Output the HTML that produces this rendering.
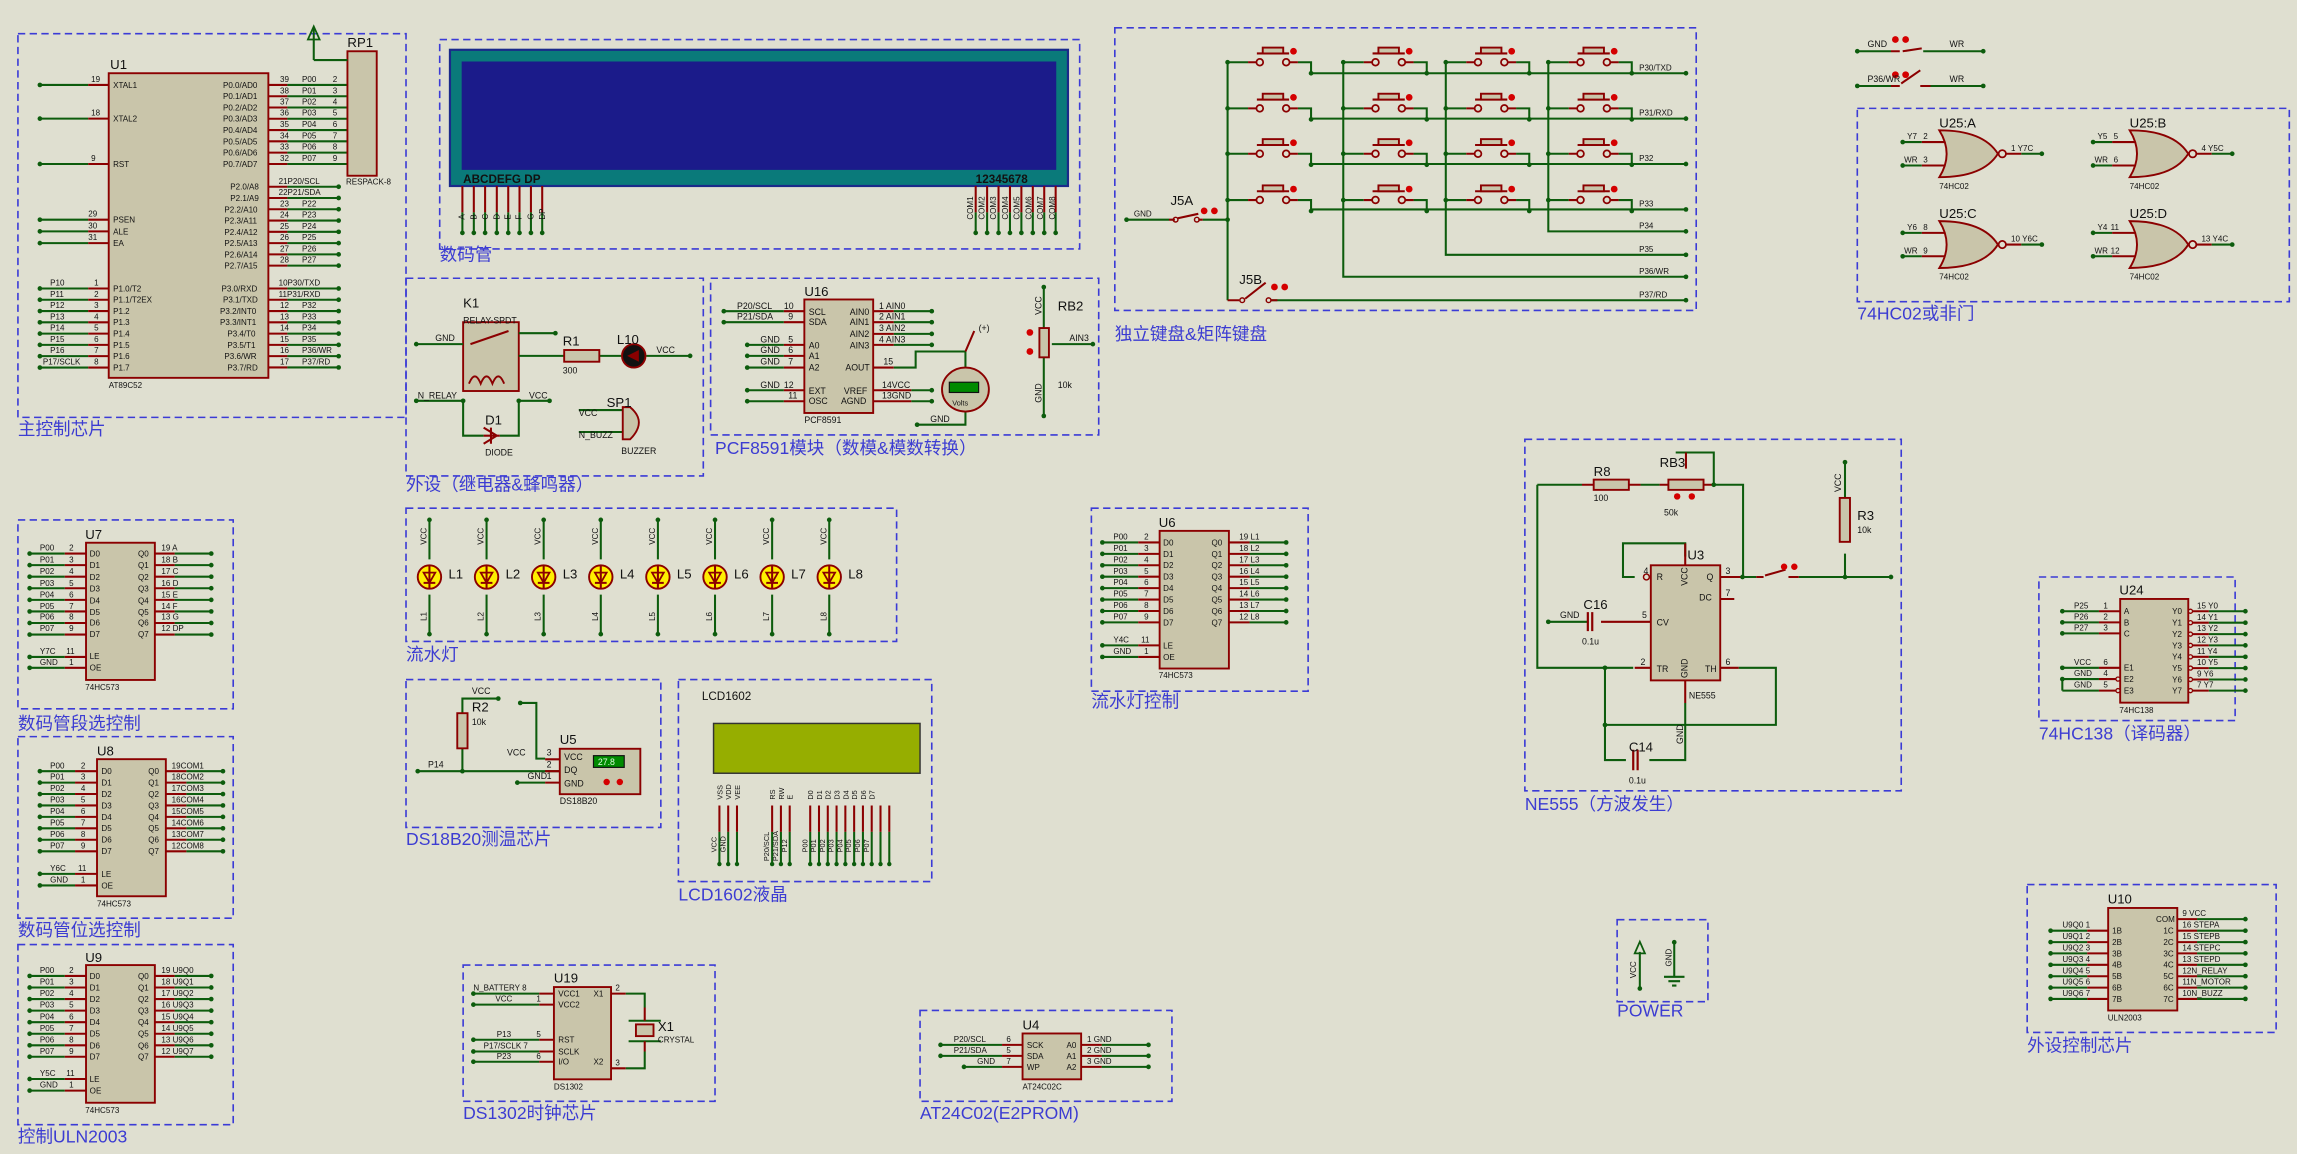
<!DOCTYPE html>
<html><head><meta charset="utf-8"><style>
html,body{margin:0;padding:0;background:#dfdfd0;}
svg{display:block}
.w{stroke:#0d5c0d;stroke-width:1.4;fill:none}
.r{stroke:#8b0000;stroke-width:1.4;fill:none}
.c{fill:#c9c5aa;stroke:#8b0000;stroke-width:1.3}
.b{fill:none;stroke:#3b3bd6;stroke-width:1.1;stroke-dasharray:5 3}
.d{fill:#0d5c0d}
.t{font-family:"Liberation Sans Narrow","Liberation Sans",sans-serif;font-size:5.5px;fill:#111}
.s{font-family:"Liberation Sans",sans-serif;font-size:6px;fill:#111}
.n{font-family:"Liberation Sans Narrow","Liberation Sans",sans-serif;font-size:9px;fill:#111}
.L{font-family:"Liberation Sans","Noto Sans CJK SC",sans-serif;font-size:12px;fill:#3c3cd2}
.rd{fill:#d40000}
</style></head><body>
<svg width="2297" height="1154" viewBox="0 0 1568 788" xmlns="http://www.w3.org/2000/svg">
<defs>
<g id="sw">
<path class="w" d="M0 0H14M48 0H57V7.5"/>
<path class="r" d="M14 0H20M42 0H48M20 -6H42"/>
<circle cx="22" cy="0" r="2.3" fill="none" stroke="#8b0000" stroke-width="1.2"/>
<circle cx="40" cy="0" r="2.3" fill="none" stroke="#8b0000" stroke-width="1.2"/>
<rect x="24" y="-10" width="14" height="4" class="c"/>
<circle cx="45" cy="-7.5" r="2.3" class="rd"/>
<circle cx="0" cy="0" r="1.6" class="d"/>
<circle cx="57" cy="7.5" r="1.6" class="d"/>
</g>
<g id="nor">
<path class="c" d="M0 0Q30 0 40 16Q30 32 0 32Q10 16 0 0Z"/>
<circle cx="43" cy="16" r="2.5" fill="#dfdfd0" stroke="#8b0000" stroke-width="1.2"/>
<path class="r" d="M-12 8H4M-12 24H4M45.5 16H56"/>
<path class="w" d="M-25 8H-12M-25 24H-12M56 16H70"/>
<circle cx="-25" cy="8" r="1.6" class="d"/><circle cx="-25" cy="24" r="1.6" class="d"/><circle cx="70" cy="16" r="1.6" class="d"/>
</g>
<g id="led">
<path class="w" d="M0 -39V-12M0 12V39"/>
<circle cx="0" cy="0" r="8" fill="#ffee00" stroke="#8b0000" stroke-width="1.3"/>
<path d="M-4 -3H4L0 4Z" fill="none" stroke="#8b0000" stroke-width="1.2"/><path class="r" d="M-4 4H4M0 -8V8"/>
<circle cx="0" cy="-39" r="1.6" class="d"/><circle cx="0" cy="39" r="1.6" class="d"/>
</g>
</defs>

<!-- ===== dashed boxes and labels ===== -->
<rect class="b" x="12" y="23" width="265" height="262"/><text class="L" x="12" y="297">主控制芯片</text>
<rect class="b" x="300" y="27" width="437" height="143"/><text class="L" x="300" y="178">数码管</text>
<rect class="b" x="761" y="19" width="397" height="193"/><text class="L" x="761" y="232">独立键盘&amp;矩阵键盘</text>
<rect class="b" x="1268" y="74" width="295" height="132"/><text class="L" x="1268" y="218">74HC02或非门</text>
<rect class="b" x="277" y="190" width="203" height="135"/><text class="L" x="277" y="335">外设（继电器&amp;蜂鸣器）</text>
<rect class="b" x="485" y="190" width="265" height="107"/><text class="L" x="488" y="310">PCF8591模块（数模&amp;模数转换）</text>
<rect class="b" x="277" y="347" width="335" height="91"/><text class="L" x="277" y="451">流水灯</text>
<rect class="b" x="12" y="355" width="147" height="129"/><text class="L" x="12" y="498">数码管段选控制</text>
<rect class="b" x="12" y="503" width="147" height="124"/><text class="L" x="12" y="639">数码管位选控制</text>
<rect class="b" x="12" y="645" width="147" height="123"/><text class="L" x="12" y="780">控制ULN2003</text>
<rect class="b" x="745" y="347" width="148" height="125"/><text class="L" x="745" y="483">流水灯控制</text>
<rect class="b" x="1041" y="300" width="257" height="240"/><text class="L" x="1041" y="553">NE555（方波发生）</text>
<rect class="b" x="1392" y="394" width="134" height="98"/><text class="L" x="1392" y="505">74HC138（译码器）</text>
<rect class="b" x="277" y="464" width="174" height="101"/><text class="L" x="277" y="577">DS18B20测温芯片</text>
<rect class="b" x="463" y="464" width="173" height="138"/><text class="L" x="463" y="615">LCD1602液晶</text>
<rect class="b" x="1104" y="628" width="62" height="56"/><text class="L" x="1104" y="694">POWER</text>
<rect class="b" x="1384" y="604" width="170" height="101"/><text class="L" x="1384" y="718">外设控制芯片</text>
<rect class="b" x="316" y="659" width="172" height="93"/><text class="L" x="316" y="764">DS1302时钟芯片</text>
<rect class="b" x="628" y="690" width="172" height="62"/><text class="L" x="628" y="764">AT24C02(E2PROM)</text>

<!-- ===== U1 main chip ===== -->
<rect class="c" x="74" y="50" width="109" height="208"/>
<text class="n" x="75" y="47">U1</text><text class="t" x="74" y="265">AT89C52</text>
<path class="w" d="M27 58H60M27 81H60M27 112H60M27 150H60M27 158H60M27 166H60M27 197H60M27 204.7H60M27 212.4H60M27 220.1H60M27 227.8H60M27 235.5H60M27 243.2H60M27 251H60"/>
<path class="r" d="M60 58H74M60 81H74M60 112H74M60 150H74M60 158H74M60 166H74M60 197H74M60 204.7H74M60 212.4H74M60 220.1H74M60 227.8H74M60 235.5H74M60 243.2H74M60 251H74"/>
<path class="r" d="M183 58H196M183 65.7H196M183 73.4H196M183 81.1H196M183 88.8H196M183 96.5H196M183 104.2H196M183 112H196M183 127.5H196M183 135.2H196M183 142.9H196M183 150.6H196M183 158.3H196M183 166H196M183 173.7H196M183 181.4H196M183 197H196M183 204.7H196M183 212.4H196M183 220.1H196M183 227.8H196M183 235.5H196M183 243.2H196M183 250.9H196"/>
<path class="w" d="M196 58H237M196 65.7H237M196 73.4H237M196 81.1H237M196 88.8H237M196 96.5H237M196 104.2H237M196 112H237M196 127.5H231M196 135.2H231M196 142.9H231M196 150.6H231M196 158.3H231M196 166H231M196 173.7H231M196 181.4H231M196 197H231M196 204.7H231M196 212.4H231M196 220.1H231M196 227.8H231M196 235.5H231M196 243.2H231M196 250.9H231"/>
<g class="d"><circle cx="27" cy="58" r="1.6"/><circle cx="27" cy="81" r="1.6"/><circle cx="27" cy="112" r="1.6"/><circle cx="27" cy="150" r="1.6"/><circle cx="27" cy="158" r="1.6"/><circle cx="27" cy="166" r="1.6"/><circle cx="27" cy="197" r="1.6"/><circle cx="27" cy="204.7" r="1.6"/><circle cx="27" cy="212.4" r="1.6"/><circle cx="27" cy="220.1" r="1.6"/><circle cx="27" cy="227.8" r="1.6"/><circle cx="27" cy="235.5" r="1.6"/><circle cx="27" cy="243.2" r="1.6"/><circle cx="27" cy="251" r="1.6"/>
<circle cx="231" cy="127.5" r="1.6"/><circle cx="231" cy="135.2" r="1.6"/><circle cx="231" cy="142.9" r="1.6"/><circle cx="231" cy="150.6" r="1.6"/><circle cx="231" cy="158.3" r="1.6"/><circle cx="231" cy="166" r="1.6"/><circle cx="231" cy="173.7" r="1.6"/><circle cx="231" cy="181.4" r="1.6"/><circle cx="231" cy="197" r="1.6"/><circle cx="231" cy="204.7" r="1.6"/><circle cx="231" cy="212.4" r="1.6"/><circle cx="231" cy="220.1" r="1.6"/><circle cx="231" cy="227.8" r="1.6"/><circle cx="231" cy="235.5" r="1.6"/><circle cx="231" cy="243.2" r="1.6"/><circle cx="231" cy="250.9" r="1.6"/></g>
<g class="t">
<text x="77" y="60">XTAL1</text><text x="77" y="83">XTAL2</text><text x="77" y="114">RST</text><text x="77" y="152">PSEN</text><text x="77" y="160">ALE</text><text x="77" y="168">EA</text>
<text x="77" y="199">P1.0/T2</text><text x="77" y="206.7">P1.1/T2EX</text><text x="77" y="214.4">P1.2</text><text x="77" y="222">P1.3</text><text x="77" y="229.8">P1.4</text><text x="77" y="237.5">P1.5</text><text x="77" y="245.2">P1.6</text><text x="77" y="253">P1.7</text>
<text x="62" y="56">19</text><text x="62" y="79">18</text><text x="62" y="110">9</text><text x="60" y="148">29</text><text x="60" y="156">30</text><text x="60" y="164">31</text>
<text x="34" y="195">P10</text><text x="34" y="202.7">P11</text><text x="34" y="210.4">P12</text><text x="34" y="218">P13</text><text x="34" y="225.8">P14</text><text x="34" y="233.5">P15</text><text x="34" y="241.2">P16</text><text x="29" y="249">P17/SCLK</text>
<text x="64" y="195">1</text><text x="64" y="202.7">2</text><text x="64" y="210.4">3</text><text x="64" y="218">4</text><text x="64" y="225.8">5</text><text x="64" y="233.5">6</text><text x="64" y="241.2">7</text><text x="64" y="249">8</text>
<text x="152" y="60">P0.0/AD0</text><text x="152" y="67.7">P0.1/AD1</text><text x="152" y="75.4">P0.2/AD2</text><text x="152" y="83">P0.3/AD3</text><text x="152" y="90.8">P0.4/AD4</text><text x="152" y="98.5">P0.5/AD5</text><text x="152" y="106.2">P0.6/AD6</text><text x="152" y="114">P0.7/AD7</text>
<text x="157" y="129.5">P2.0/A8</text><text x="157" y="137.2">P2.1/A9</text><text x="153" y="145">P2.2/A10</text><text x="153" y="152.6">P2.3/A11</text><text x="153" y="160.3">P2.4/A12</text><text x="153" y="168">P2.5/A13</text><text x="153" y="175.7">P2.6/A14</text><text x="153" y="183.4">P2.7/A15</text>
<text x="151" y="199">P3.0/RXD</text><text x="152" y="206.7">P3.1/TXD</text><text x="150" y="214.4">P3.2/INT0</text><text x="150" y="222">P3.3/INT1</text><text x="155" y="229.8">P3.4/T0</text><text x="155" y="237.5">P3.5/T1</text><text x="153" y="245.2">P3.6/WR</text><text x="155" y="253">P3.7/RD</text>
<text x="191" y="56">39</text><text x="191" y="63.7">38</text><text x="191" y="71.4">37</text><text x="191" y="79">36</text><text x="191" y="86.8">35</text><text x="191" y="94.5">34</text><text x="191" y="102.2">33</text><text x="191" y="110">32</text>
<text x="206" y="56">P00</text><text x="206" y="63.7">P01</text><text x="206" y="71.4">P02</text><text x="206" y="79">P03</text><text x="206" y="86.8">P04</text><text x="206" y="94.5">P05</text><text x="206" y="102.2">P06</text><text x="206" y="110">P07</text>
<text x="227" y="56">2</text><text x="227" y="63.7">3</text><text x="227" y="71.4">4</text><text x="227" y="79">5</text><text x="227" y="86.8">6</text><text x="227" y="94.5">7</text><text x="227" y="102.2">8</text><text x="227" y="110">9</text>
<text x="190" y="125.5">21P20/SCL</text><text x="190" y="133.2">22P21/SDA</text><text x="191" y="141">23</text><text x="206" y="141">P22</text><text x="191" y="148.6">24</text><text x="206" y="148.6">P23</text><text x="191" y="156.3">25</text><text x="206" y="156.3">P24</text><text x="191" y="164">26</text><text x="206" y="164">P25</text><text x="191" y="171.7">27</text><text x="206" y="171.7">P26</text><text x="191" y="179.4">28</text><text x="206" y="179.4">P27</text>
<text x="190" y="195">10P30/TXD</text><text x="190" y="202.7">11P31/RXD</text><text x="191" y="210.4">12</text><text x="206" y="210.4">P32</text><text x="191" y="218">13</text><text x="206" y="218">P33</text><text x="191" y="225.8">14</text><text x="206" y="225.8">P34</text><text x="191" y="233.5">15</text><text x="206" y="233.5">P35</text><text x="191" y="241.2">16</text><text x="206" y="241.2">P36/WR</text><text x="191" y="249">17</text><text x="206" y="249">P37/RD</text>
<text x="236" y="126">RESPACK-8</text>
</g>
<rect class="c" x="237" y="35" width="20" height="85"/><text class="n" x="237" y="32">RP1</text>
<path class="w" d="M214 41V19M214 41H237"/><path d="M210 27L214 18L218 27Z" fill="none" stroke="#0d5c0d" stroke-width="1.2"/>

<!-- ===== 7-seg display ===== -->
<rect x="307" y="34" width="422" height="93" fill="#0a7a7a" stroke="#1a2a8a" stroke-width="1.5"/>
<rect x="315" y="42" width="406" height="74" fill="#1b1b8a"/>
<text x="316" y="125" style="font:bold 8px 'Liberation Sans Narrow','Liberation Sans',sans-serif;fill:#111">ABCDEFG  DP</text>
<text x="666" y="125" style="font:bold 8px 'Liberation Sans Narrow','Liberation Sans',sans-serif;fill:#111">12345678</text>
<path class="r" d="M315.5 127V145M323.3 127V145M331 127V145M339 127V145M346.8 127V145M354.5 127V145M362.3 127V145M370 127V145M666 127V145M673.8 127V145M681.6 127V145M689.4 127V145M697.2 127V145M705 127V145M712.8 127V145M720.6 127V145"/>
<path class="w" d="M315.5 145V159M323.3 145V159M331 145V159M339 145V159M346.8 145V159M354.5 145V159M362.3 145V159M370 145V159M666 145V159M673.8 145V159M681.6 145V159M689.4 145V159M697.2 145V159M705 145V159M712.8 145V159M720.6 145V159"/>
<g class="d"><circle cx="315.5" cy="159" r="1.6"/><circle cx="323.3" cy="159" r="1.6"/><circle cx="331" cy="159" r="1.6"/><circle cx="339" cy="159" r="1.6"/><circle cx="346.8" cy="159" r="1.6"/><circle cx="354.5" cy="159" r="1.6"/><circle cx="362.3" cy="159" r="1.6"/><circle cx="370" cy="159" r="1.6"/><circle cx="666" cy="159" r="1.6"/><circle cx="673.8" cy="159" r="1.6"/><circle cx="681.6" cy="159" r="1.6"/><circle cx="689.4" cy="159" r="1.6"/><circle cx="697.2" cy="159" r="1.6"/><circle cx="705" cy="159" r="1.6"/><circle cx="712.8" cy="159" r="1.6"/><circle cx="720.6" cy="159" r="1.6"/></g>
<g class="t"><text transform="translate(317,150) rotate(-90)">A</text><text transform="translate(325,150) rotate(-90)">B</text><text transform="translate(333,150) rotate(-90)">C</text><text transform="translate(341,150) rotate(-90)">D</text><text transform="translate(348.5,150) rotate(-90)">E</text><text transform="translate(356,150) rotate(-90)">F</text><text transform="translate(364,150) rotate(-90)">G</text><text transform="translate(372,150) rotate(-90)">DP</text>
<text transform="translate(664,150) rotate(-90)">COM1</text><text transform="translate(672,150) rotate(-90)">COM2</text><text transform="translate(680,150) rotate(-90)">COM3</text><text transform="translate(688,150) rotate(-90)">COM4</text><text transform="translate(696,150) rotate(-90)">COM5</text><text transform="translate(704,150) rotate(-90)">COM6</text><text transform="translate(712,150) rotate(-90)">COM7</text><text transform="translate(720,150) rotate(-90)">COM8</text></g>

<!-- ===== Keyboard ===== -->
<path class="w" d="M838 42.5V205M917 42.5V189H1151M987 42.5V174H1151M1057 42.5V158H1151M895 50H1151M895 81H1151M895 112H1151M895 143H1151M868 205H1151M769 150H798M821 150H838"/>
<use href="#sw" x="838" y="42.5"/><use href="#sw" x="917" y="42.5"/><use href="#sw" x="987" y="42.5"/><use href="#sw" x="1057" y="42.5"/>
<use href="#sw" x="838" y="74"/><use href="#sw" x="917" y="74"/><use href="#sw" x="987" y="74"/><use href="#sw" x="1057" y="74"/>
<use href="#sw" x="838" y="105"/><use href="#sw" x="917" y="105"/><use href="#sw" x="987" y="105"/><use href="#sw" x="1057" y="105"/>
<use href="#sw" x="838" y="136.6"/><use href="#sw" x="917" y="136.6"/><use href="#sw" x="987" y="136.6"/><use href="#sw" x="1057" y="136.6"/>
<g class="d"><circle cx="769" cy="150" r="1.6"/><circle cx="838" cy="150" r="1.6"/><circle cx="1151" cy="50" r="1.6"/><circle cx="1151" cy="81" r="1.6"/><circle cx="1151" cy="112" r="1.6"/><circle cx="1151" cy="143" r="1.6"/><circle cx="1151" cy="158" r="1.6"/><circle cx="1151" cy="174" r="1.6"/><circle cx="1151" cy="189" r="1.6"/><circle cx="1151" cy="205" r="1.6"/></g>
<path class="r" d="M798 150H802M818 150H821M804 149L818 146M838 205H846M850 204L864 193M868 205H872"/>
<circle cx="802.5" cy="150" r="1.6" fill="none" stroke="#8b0000"/><circle cx="817" cy="150" r="1.6" fill="none" stroke="#8b0000"/>
<circle cx="848" cy="205" r="1.6" fill="none" stroke="#8b0000"/><circle cx="866" cy="205" r="1.6" fill="none" stroke="#8b0000"/>
<g class="rd"><circle cx="822" cy="144" r="2.3"/><circle cx="829" cy="144" r="2.3"/><circle cx="870" cy="196" r="2.3"/><circle cx="877" cy="196" r="2.3"/></g>
<g class="t"><text x="774" y="148">GND</text><text x="1119" y="48">P30/TXD</text><text x="1119" y="79">P31/RXD</text><text x="1119" y="110">P32</text><text x="1119" y="141">P33</text><text x="1119" y="156">P34</text><text x="1119" y="172">P35</text><text x="1119" y="187">P36/WR</text><text x="1119" y="203">P37/RD</text></g>
<text class="n" x="799" y="140">J5A</text><text class="n" x="846" y="194">J5B</text>

<!-- small GND/WR switches -->
<path class="w" d="M1268 35H1291M1313 35H1336M1336 35H1354M1268 58.7H1291M1313 58.7H1354"/>
<path class="r" d="M1291 35H1297M1299 35L1312 33M1291 58.7H1297M1298 57L1311 48M1311 58.7H1318"/>
<g class="rd"><circle cx="1294" cy="27" r="2.3"/><circle cx="1301" cy="27" r="2.3"/><circle cx="1294" cy="51" r="2.3"/><circle cx="1301" cy="51" r="2.3"/></g>
<g class="d"><circle cx="1268" cy="35" r="1.6"/><circle cx="1354" cy="35" r="1.6"/><circle cx="1268" cy="58.7" r="1.6"/><circle cx="1354" cy="58.7" r="1.6"/></g>
<g class="s"><text x="1275" y="32">GND</text><text x="1331" y="32">WR</text><text x="1275" y="56">P36/WR</text><text x="1331" y="56">WR</text></g>

<!-- 74HC02 -->
<use href="#nor" x="1324" y="89"/><use href="#nor" x="1454" y="89"/><use href="#nor" x="1324" y="151"/><use href="#nor" x="1454" y="151"/>
<g class="n"><text x="1324" y="87">U25:A</text><text x="1454" y="87">U25:B</text><text x="1324" y="149">U25:C</text><text x="1454" y="149">U25:D</text></g>
<g class="t"><text x="1324" y="129">74HC02</text><text x="1454" y="129">74HC02</text><text x="1324" y="191">74HC02</text><text x="1454" y="191">74HC02</text>
<text x="1302" y="95">Y7</text><text x="1313" y="95">2</text><text x="1300" y="111">WR</text><text x="1313" y="111">3</text><text x="1373" y="103">1 Y7C</text>
<text x="1432" y="95">Y5</text><text x="1443" y="95">5</text><text x="1430" y="111">WR</text><text x="1443" y="111">6</text><text x="1503" y="103">4 Y5C</text>
<text x="1302" y="157">Y6</text><text x="1313" y="157">8</text><text x="1300" y="173">WR</text><text x="1313" y="173">9</text><text x="1373" y="165">10 Y6C</text>
<text x="1432" y="157">Y4</text><text x="1441" y="157">11</text><text x="1430" y="173">WR</text><text x="1441" y="173">12</text><text x="1503" y="165">13 Y4C</text></g>

<!-- ===== Relay ===== -->
<rect class="c" x="316" y="220" width="38" height="47"/>
<text class="s" x="316" y="210" style="font-size:9px">K1</text><text class="s" x="316" y="221" style="font-size:6px">RELAY-SPDT</text>
<path class="w" d="M284 235H316M354 227.5H379M354 243H385M409 243H424M441 243H471M284 273.7H316M354 273.7H375M316 273.7V297.5H330M354 273.7V297.5H341"/>
<path class="r" d="M321 235L347 226M385 243H409"/>
<rect x="385" y="239" width="24" height="8" class="c"/>
<circle cx="432.5" cy="243" r="8" fill="#111" stroke="#8b0000" stroke-width="1.3"/><path d="M428 243L436 239V247Z" fill="#8b0000"/>
<path class="r" d="M330 297.5H341M335 292V303M330 292L339 297.5L330 303"/>
<path d="M320 262q4 -10 8 0q4 -10 8 0q4 -10 8 0" fill="none" stroke="#8b0000" stroke-width="1.3"/>
<path class="w" d="M395 280H425M395 295H425"/><path d="M425 278H430Q442 288 430 300H425Z" class="c"/>
<g class="d"><circle cx="284" cy="235" r="1.6"/><circle cx="379" cy="227.5" r="1.6"/><circle cx="471" cy="243" r="1.6"/><circle cx="284" cy="273.7" r="1.6"/><circle cx="316" cy="273.7" r="1.6"/><circle cx="354" cy="273.7" r="1.6"/><circle cx="375" cy="273.7" r="1.6"/></g>
<g class="s"><text x="297" y="233">GND</text><text x="384" y="236" style="font-size:9px">R1</text><text x="384" y="255">300</text><text x="421" y="235" style="font-size:9px">L10</text><text x="448" y="241">VCC</text>
<text x="285" y="272">N_RELAY</text><text x="361" y="272">VCC</text><text x="331" y="290" style="font-size:9px">D1</text><text x="331" y="311">DIODE</text>
<text x="395" y="284">VCC</text><text x="395" y="299">N_BUZZ</text><text x="414" y="278" style="font-size:9px">SP1</text><text x="424" y="310">BUZZER</text></g>

<!-- ===== PCF8591 ===== -->
<rect class="c" x="549" y="204.5" width="47" height="77.5"/>
<text class="s" x="549" y="202" style="font-size:9px">U16</text><text class="s" x="549" y="289">PCF8591</text>
<path class="w" d="M494 212.5H535M494 220H535M510 235.5H535M510 243H535M510 251H535M510 266.5H535M510 274H535M610 212.5H636M610 220H636M610 228H636M610 235.5H636M622 266.5H636M622 274H636M610 251H625V240H659V252M659 281V290H626M712.5 196V224M712.5 244V284M718 235H746"/>
<path class="r" d="M535 212.5H549M535 220H549M535 235.5H549M535 243H549M535 251H549M535 266.5H549M535 274H549M596 212.5H610M596 220H610M596 228H610M596 235.5H610M596 251H610M596 266.5H622M596 274H622M659 240L665 226"/>
<ellipse cx="659" cy="266" rx="16" ry="15" class="c"/>
<rect x="648" y="261" width="20" height="7" fill="#008a00" stroke="#111" stroke-width="0.8"/>
<rect x="709.5" y="224" width="6.5" height="20" class="c"/>
<g class="rd"><circle cx="703" cy="227" r="2.3"/><circle cx="703" cy="240" r="2.3"/></g>
<g class="d"><circle cx="494" cy="212.5" r="1.6"/><circle cx="494" cy="220" r="1.6"/><circle cx="510" cy="235.5" r="1.6"/><circle cx="510" cy="243" r="1.6"/><circle cx="510" cy="251" r="1.6"/><circle cx="510" cy="266.5" r="1.6"/><circle cx="510" cy="274" r="1.6"/><circle cx="636" cy="212.5" r="1.6"/><circle cx="636" cy="220" r="1.6"/><circle cx="636" cy="228" r="1.6"/><circle cx="636" cy="235.5" r="1.6"/><circle cx="636" cy="266.5" r="1.6"/><circle cx="636" cy="274" r="1.6"/><circle cx="626" cy="290" r="1.6"/><circle cx="712.5" cy="196" r="1.6"/><circle cx="712.5" cy="284" r="1.6"/><circle cx="746" cy="235" r="1.6"/></g>
<g class="s"><text x="503" y="211">P20/SCL</text><text x="503" y="218">P21/SDA</text><text x="535" y="211">10</text><text x="538" y="218">9</text>
<text x="519" y="234">GND</text><text x="538" y="234">5</text><text x="519" y="241">GND</text><text x="538" y="241">6</text><text x="519" y="249">GND</text><text x="538" y="249">7</text><text x="519" y="265">GND</text><text x="535" y="265">12</text><text x="538" y="272">11</text>
<text x="552" y="215">SCL</text><text x="552" y="222">SDA</text><text x="552" y="238">A0</text><text x="552" y="245">A1</text><text x="552" y="253">A2</text><text x="552" y="269">EXT</text><text x="552" y="276">OSC</text>
<text x="580" y="215">AIN0</text><text x="580" y="222">AIN1</text><text x="580" y="230">AIN2</text><text x="580" y="238">AIN3</text><text x="577" y="253">AOUT</text><text x="576" y="269">VREF</text><text x="574" y="276">AGND</text>
<text x="600" y="211">1 AIN0</text><text x="600" y="218">2 AIN1</text><text x="600" y="226">3 AIN2</text><text x="600" y="234">4 AIN3</text><text x="603" y="249">15</text><text x="602" y="265">14VCC</text><text x="602" y="272">13GND</text><text x="635" y="288">GND</text><text x="668" y="226">(+)</text><text x="650" y="277" style="font-size:5px">Volts</text>
<text x="730" y="233">AIN3</text><text x="722" y="265">10k</text><text x="722" y="212" style="font-size:9px">RB2</text>
<text transform="translate(711,215) rotate(-90)">VCC</text><text transform="translate(711,275) rotate(-90)">GND</text></g>

<!-- ===== LEDs ===== -->
<use href="#led" x="293" y="394"/><use href="#led" x="332" y="394"/><use href="#led" x="371" y="394"/><use href="#led" x="410" y="394"/><use href="#led" x="449" y="394"/><use href="#led" x="488" y="394"/><use href="#led" x="527" y="394"/><use href="#led" x="566" y="394"/>
<g class="n"><text x="306" y="395">L1</text><text x="345" y="395">L2</text><text x="384" y="395">L3</text><text x="423" y="395">L4</text><text x="462" y="395">L5</text><text x="501" y="395">L6</text><text x="540" y="395">L7</text><text x="579" y="395">L8</text></g>
<g class="t"><text transform="translate(291,372) rotate(-90)">VCC</text><text transform="translate(330,372) rotate(-90)">VCC</text><text transform="translate(369,372) rotate(-90)">VCC</text><text transform="translate(408,372) rotate(-90)">VCC</text><text transform="translate(447,372) rotate(-90)">VCC</text><text transform="translate(486,372) rotate(-90)">VCC</text><text transform="translate(525,372) rotate(-90)">VCC</text><text transform="translate(564,372) rotate(-90)">VCC</text>
<text transform="translate(291,424) rotate(-90)">L1</text><text transform="translate(330,424) rotate(-90)">L2</text><text transform="translate(369,424) rotate(-90)">L3</text><text transform="translate(408,424) rotate(-90)">L4</text><text transform="translate(447,424) rotate(-90)">L5</text><text transform="translate(486,424) rotate(-90)">L6</text><text transform="translate(525,424) rotate(-90)">L7</text><text transform="translate(564,424) rotate(-90)">L8</text></g>

<!-- ===== 74HC573 U7 ===== -->
<rect class="c" x="58.5" y="370.6" width="47" height="93.7"/><text class="n" x="58" y="368">U7</text><text class="t" x="58" y="471">74HC573</text>
<path class="w" d="M20 378H44M20 385.9H44M20 393.8H44M20 401.7H44M20 409.6H44M20 417.5H44M20 425.4H44M20 433.3H44M20 448.6H44M20 456H44M119 378H144M119 385.9H144M119 393.8H144M119 401.7H144M119 409.6H144M119 417.5H144M119 425.4H144M119 433.3H144"/>
<path class="r" d="M44 378H58.5M44 385.9H58.5M44 393.8H58.5M44 401.7H58.5M44 409.6H58.5M44 417.5H58.5M44 425.4H58.5M44 433.3H58.5M44 448.6H58.5M44 456H58.5M105.5 378H119M105.5 385.9H119M105.5 393.8H119M105.5 401.7H119M105.5 409.6H119M105.5 417.5H119M105.5 425.4H119M105.5 433.3H119"/>
<g class="d"><circle cx="20" cy="378" r="1.6"/><circle cx="20" cy="385.9" r="1.6"/><circle cx="20" cy="393.8" r="1.6"/><circle cx="20" cy="401.7" r="1.6"/><circle cx="20" cy="409.6" r="1.6"/><circle cx="20" cy="417.5" r="1.6"/><circle cx="20" cy="425.4" r="1.6"/><circle cx="20" cy="433.3" r="1.6"/><circle cx="20" cy="448.6" r="1.6"/><circle cx="20" cy="456" r="1.6"/><circle cx="144" cy="378" r="1.6"/><circle cx="144" cy="385.9" r="1.6"/><circle cx="144" cy="393.8" r="1.6"/><circle cx="144" cy="401.7" r="1.6"/><circle cx="144" cy="409.6" r="1.6"/><circle cx="144" cy="417.5" r="1.6"/><circle cx="144" cy="425.4" r="1.6"/><circle cx="144" cy="433.3" r="1.6"/></g>
<g class="t"><text x="27" y="376">P00</text><text x="47" y="376">2</text><text x="27" y="384">P01</text><text x="47" y="384">3</text><text x="27" y="392">P02</text><text x="47" y="392">4</text><text x="27" y="400">P03</text><text x="47" y="400">5</text><text x="27" y="408">P04</text><text x="47" y="408">6</text><text x="27" y="416">P05</text><text x="47" y="416">7</text><text x="27" y="423">P06</text><text x="47" y="423">8</text><text x="27" y="431">P07</text><text x="47" y="431">9</text><text x="27" y="446.5">Y7C</text><text x="45" y="446.5">11</text><text x="27" y="454">GND</text><text x="47" y="454">1</text>
<text x="61" y="380">D0</text><text x="61" y="388">D1</text><text x="61" y="396">D2</text><text x="61" y="404">D3</text><text x="61" y="412">D4</text><text x="61" y="420">D5</text><text x="61" y="427">D6</text><text x="61" y="435">D7</text><text x="61" y="450">LE</text><text x="61" y="458">OE</text>
<text x="94" y="380">Q0</text><text x="94" y="388">Q1</text><text x="94" y="396">Q2</text><text x="94" y="404">Q3</text><text x="94" y="412">Q4</text><text x="94" y="420">Q5</text><text x="94" y="427">Q6</text><text x="94" y="435">Q7</text>
<text x="110" y="376">19  A</text><text x="110" y="384">18  B</text><text x="110" y="392">17  C</text><text x="110" y="400">16  D</text><text x="110" y="408">15  E</text><text x="110" y="416">14  F</text><text x="110" y="423">13  G</text><text x="110" y="431">12  DP</text></g>

<!-- ===== U8 ===== -->
<rect class="c" x="66" y="518.4" width="47" height="93.6"/><text class="n" x="66" y="516">U8</text><text class="t" x="66" y="619">74HC573</text>
<path class="w" d="M27 526.6H51M27 534.4H51M27 542.2H51M27 550H51M27 557.8H51M27 565.6H51M27 573.4H51M27 581.3H51M27 596.7H51M27 604.6H51M127 526.6H152M127 534.4H152M127 542.2H152M127 550H152M127 557.8H152M127 565.6H152M127 573.4H152M127 581.3H152"/>
<path class="r" d="M51 526.6H66M51 534.4H66M51 542.2H66M51 550H66M51 557.8H66M51 565.6H66M51 573.4H66M51 581.3H66M51 596.7H66M51 604.6H66M113 526.6H127M113 534.4H127M113 542.2H127M113 550H127M113 557.8H127M113 565.6H127M113 573.4H127M113 581.3H127"/>
<g class="d"><circle cx="27" cy="526.6" r="1.6"/><circle cx="27" cy="534.4" r="1.6"/><circle cx="27" cy="542.2" r="1.6"/><circle cx="27" cy="550" r="1.6"/><circle cx="27" cy="557.8" r="1.6"/><circle cx="27" cy="565.6" r="1.6"/><circle cx="27" cy="573.4" r="1.6"/><circle cx="27" cy="581.3" r="1.6"/><circle cx="27" cy="596.7" r="1.6"/><circle cx="27" cy="604.6" r="1.6"/><circle cx="152" cy="526.6" r="1.6"/><circle cx="152" cy="534.4" r="1.6"/><circle cx="152" cy="542.2" r="1.6"/><circle cx="152" cy="550" r="1.6"/><circle cx="152" cy="557.8" r="1.6"/><circle cx="152" cy="565.6" r="1.6"/><circle cx="152" cy="573.4" r="1.6"/><circle cx="152" cy="581.3" r="1.6"/></g>
<g class="t"><text x="34" y="524.6">P00</text><text x="55" y="524.6">2</text><text x="34" y="532.4">P01</text><text x="55" y="532.4">3</text><text x="34" y="540.2">P02</text><text x="55" y="540.2">4</text><text x="34" y="548">P03</text><text x="55" y="548">5</text><text x="34" y="555.8">P04</text><text x="55" y="555.8">6</text><text x="34" y="563.6">P05</text><text x="55" y="563.6">7</text><text x="34" y="571.4">P06</text><text x="55" y="571.4">8</text><text x="34" y="579.3">P07</text><text x="55" y="579.3">9</text><text x="34" y="594.7">Y6C</text><text x="53" y="594.7">11</text><text x="34" y="602.6">GND</text><text x="55" y="602.6">1</text>
<text x="69" y="528.6">D0</text><text x="69" y="536.4">D1</text><text x="69" y="544.2">D2</text><text x="69" y="552">D3</text><text x="69" y="559.8">D4</text><text x="69" y="567.6">D5</text><text x="69" y="575.4">D6</text><text x="69" y="583.3">D7</text><text x="69" y="598.7">LE</text><text x="69" y="606.6">OE</text>
<text x="101" y="528.6">Q0</text><text x="101" y="536.4">Q1</text><text x="101" y="544.2">Q2</text><text x="101" y="552">Q3</text><text x="101" y="559.8">Q4</text><text x="101" y="567.6">Q5</text><text x="101" y="575.4">Q6</text><text x="101" y="583.3">Q7</text>
<text x="117" y="524.6">19COM1</text><text x="117" y="532.4">18COM2</text><text x="117" y="540.2">17COM3</text><text x="117" y="548">16COM4</text><text x="117" y="555.8">15COM5</text><text x="117" y="563.6">14COM6</text><text x="117" y="571.4">13COM7</text><text x="117" y="579.3">12COM8</text></g>

<!-- ===== U9 ===== -->
<rect class="c" x="58.5" y="659" width="47" height="94"/><text class="n" x="58" y="657">U9</text><text class="t" x="58" y="760">74HC573</text>
<path class="w" d="M20 666.4H44M20 674.3H44M20 682.2H44M20 690.1H44M20 698H44M20 705.9H44M20 713.8H44M20 721.6H44M20 736.8H44M20 744.7H44M119 666.4H144M119 674.3H144M119 682.2H144M119 690.1H144M119 698H144M119 705.9H144M119 713.8H144M119 721.6H144"/>
<path class="r" d="M44 666.4H58.5M44 674.3H58.5M44 682.2H58.5M44 690.1H58.5M44 698H58.5M44 705.9H58.5M44 713.8H58.5M44 721.6H58.5M44 736.8H58.5M44 744.7H58.5M105.5 666.4H119M105.5 674.3H119M105.5 682.2H119M105.5 690.1H119M105.5 698H119M105.5 705.9H119M105.5 713.8H119M105.5 721.6H119"/>
<g class="d"><circle cx="20" cy="666.4" r="1.6"/><circle cx="20" cy="674.3" r="1.6"/><circle cx="20" cy="682.2" r="1.6"/><circle cx="20" cy="690.1" r="1.6"/><circle cx="20" cy="698" r="1.6"/><circle cx="20" cy="705.9" r="1.6"/><circle cx="20" cy="713.8" r="1.6"/><circle cx="20" cy="721.6" r="1.6"/><circle cx="20" cy="736.8" r="1.6"/><circle cx="20" cy="744.7" r="1.6"/><circle cx="144" cy="666.4" r="1.6"/><circle cx="144" cy="674.3" r="1.6"/><circle cx="144" cy="682.2" r="1.6"/><circle cx="144" cy="690.1" r="1.6"/><circle cx="144" cy="698" r="1.6"/><circle cx="144" cy="705.9" r="1.6"/><circle cx="144" cy="713.8" r="1.6"/><circle cx="144" cy="721.6" r="1.6"/></g>
<g class="t"><text x="27" y="664.4">P00</text><text x="47" y="664.4">2</text><text x="27" y="672.3">P01</text><text x="47" y="672.3">3</text><text x="27" y="680.2">P02</text><text x="47" y="680.2">4</text><text x="27" y="688.1">P03</text><text x="47" y="688.1">5</text><text x="27" y="696">P04</text><text x="47" y="696">6</text><text x="27" y="703.9">P05</text><text x="47" y="703.9">7</text><text x="27" y="711.8">P06</text><text x="47" y="711.8">8</text><text x="27" y="719.6">P07</text><text x="47" y="719.6">9</text><text x="27" y="734.8">Y5C</text><text x="45" y="734.8">11</text><text x="27" y="742.7">GND</text><text x="47" y="742.7">1</text>
<text x="61" y="668.4">D0</text><text x="61" y="676.3">D1</text><text x="61" y="684.2">D2</text><text x="61" y="692.1">D3</text><text x="61" y="700">D4</text><text x="61" y="707.9">D5</text><text x="61" y="715.8">D6</text><text x="61" y="723.6">D7</text><text x="61" y="738.8">LE</text><text x="61" y="746.7">OE</text>
<text x="94" y="668.4">Q0</text><text x="94" y="676.3">Q1</text><text x="94" y="684.2">Q2</text><text x="94" y="692.1">Q3</text><text x="94" y="700">Q4</text><text x="94" y="707.9">Q5</text><text x="94" y="715.8">Q6</text><text x="94" y="723.6">Q7</text>
<text x="110" y="664.4">19  U9Q0</text><text x="110" y="672.3">18  U9Q1</text><text x="110" y="680.2">17  U9Q2</text><text x="110" y="688.1">16  U9Q3</text><text x="110" y="696">15  U9Q4</text><text x="110" y="703.9">14  U9Q5</text><text x="110" y="711.8">13  U9Q6</text><text x="110" y="719.6">12  U9Q7</text></g>

<!-- ===== U6 ===== -->
<rect class="c" x="791.6" y="362.5" width="47.3" height="94"/><text class="n" x="791" y="360">U6</text><text class="t" x="791" y="463">74HC573</text>
<path class="w" d="M752.5 370.4H777M752.5 378.2H777M752.5 386H777M752.5 393.8H777M752.5 401.6H777M752.5 409.4H777M752.5 417.2H777M752.5 425H777M752.5 440.7H777M752.5 448.6H777M853 370.4H878M853 378.2H878M853 386H878M853 393.8H878M853 401.6H878M853 409.4H878M853 417.2H878M853 425H878"/>
<path class="r" d="M777 370.4H791.6M777 378.2H791.6M777 386H791.6M777 393.8H791.6M777 401.6H791.6M777 409.4H791.6M777 417.2H791.6M777 425H791.6M777 440.7H791.6M777 448.6H791.6M838.9 370.4H853M838.9 378.2H853M838.9 386H853M838.9 393.8H853M838.9 401.6H853M838.9 409.4H853M838.9 417.2H853M838.9 425H853"/>
<g class="d"><circle cx="752.5" cy="370.4" r="1.6"/><circle cx="752.5" cy="378.2" r="1.6"/><circle cx="752.5" cy="386" r="1.6"/><circle cx="752.5" cy="393.8" r="1.6"/><circle cx="752.5" cy="401.6" r="1.6"/><circle cx="752.5" cy="409.4" r="1.6"/><circle cx="752.5" cy="417.2" r="1.6"/><circle cx="752.5" cy="425" r="1.6"/><circle cx="752.5" cy="440.7" r="1.6"/><circle cx="752.5" cy="448.6" r="1.6"/><circle cx="878" cy="370.4" r="1.6"/><circle cx="878" cy="378.2" r="1.6"/><circle cx="878" cy="386" r="1.6"/><circle cx="878" cy="393.8" r="1.6"/><circle cx="878" cy="401.6" r="1.6"/><circle cx="878" cy="409.4" r="1.6"/><circle cx="878" cy="417.2" r="1.6"/><circle cx="878" cy="425" r="1.6"/></g>
<g class="t"><text x="760" y="368.4">P00</text><text x="781" y="368.4">2</text><text x="760" y="376.2">P01</text><text x="781" y="376.2">3</text><text x="760" y="384">P02</text><text x="781" y="384">4</text><text x="760" y="391.8">P03</text><text x="781" y="391.8">5</text><text x="760" y="399.6">P04</text><text x="781" y="399.6">6</text><text x="760" y="407.4">P05</text><text x="781" y="407.4">7</text><text x="760" y="415.2">P06</text><text x="781" y="415.2">8</text><text x="760" y="423">P07</text><text x="781" y="423">9</text><text x="760" y="438.7">Y4C</text><text x="779" y="438.7">11</text><text x="760" y="446.6">GND</text><text x="781" y="446.6">1</text>
<text x="794" y="372.4">D0</text><text x="794" y="380.2">D1</text><text x="794" y="388">D2</text><text x="794" y="395.8">D3</text><text x="794" y="403.6">D4</text><text x="794" y="411.4">D5</text><text x="794" y="419.2">D6</text><text x="794" y="427">D7</text><text x="794" y="442.7">LE</text><text x="794" y="450.6">OE</text>
<text x="827" y="372.4">Q0</text><text x="827" y="380.2">Q1</text><text x="827" y="388">Q2</text><text x="827" y="395.8">Q3</text><text x="827" y="403.6">Q4</text><text x="827" y="411.4">Q5</text><text x="827" y="419.2">Q6</text><text x="827" y="427">Q7</text>
<text x="846" y="368.4">19   L1</text><text x="846" y="376.2">18   L2</text><text x="846" y="384">17   L3</text><text x="846" y="391.8">16   L4</text><text x="846" y="399.6">15   L5</text><text x="846" y="407.4">14   L6</text><text x="846" y="415.2">13   L7</text><text x="846" y="423">12   L8</text></g>

<!-- ===== DS18B20 ===== -->
<path class="w" d="M285 526.6H382M315.5 526.6V511M315.5 487V477H340M355 480H366V518H372M353 534.4H372"/>
<rect x="312" y="487" width="7" height="24" class="c"/>
<path class="r" d="M372 518.5H382M372 526.6H382M372 534.4H382"/>
<rect class="c" x="382" y="511.3" width="55" height="31"/>
<rect x="405" y="516" width="21" height="8" fill="#008a00" stroke="#111" stroke-width="0.8"/><text x="408" y="522.5" style="font:6px 'Liberation Sans',sans-serif;fill:#e0ffe0">27.8</text>
<g class="rd"><circle cx="414" cy="534" r="2.2"/><circle cx="423" cy="534" r="2.2"/></g>
<g class="d"><circle cx="285" cy="526.6" r="1.6"/><circle cx="315.5" cy="526.6" r="1.6"/><circle cx="340" cy="477" r="1.6"/><circle cx="355" cy="480" r="1.6"/><circle cx="353" cy="534.4" r="1.6"/></g>
<g class="s"><text x="322" y="474">VCC</text><text x="322" y="486" style="font-size:9px">R2</text><text x="322" y="495">10k</text><text x="292" y="524">P14</text><text x="346" y="516">VCC</text><text x="373" y="516">3</text><text x="373" y="524">2</text><text x="373" y="532">1</text><text x="360" y="532">GND</text><text x="385" y="519">VCC</text><text x="385" y="528">DQ</text><text x="385" y="537">GND</text><text x="382" y="549">DS18B20</text><text x="382" y="508" style="font-size:9px">U5</text></g>

<!-- ===== LCD1602 ===== -->
<text class="s" x="479" y="478" style="font-size:8px">LCD1602</text>
<rect x="487" y="494" width="141" height="34" fill="#96ae00" stroke="#333" stroke-width="1"/>
<path class="r" d="M491 550V568M497 550V568M503 550V568M527 550V568M533 550V568M539 550V568M553 550V568M559 550V568M565 550V568M571 550V568M577 550V568M583 550V568M589 550V568M595 550V568M601 550V568M607 550V568"/>
<path class="w" d="M491 568V590M497 568V590M503 568V590M527 568V590M533 568V590M539 568V590M553 568V590M559 568V590M565 568V590M571 568V590M577 568V590M583 568V590M589 568V590M595 568V590M601 568V590M607 568V590"/>
<g class="d"><circle cx="491" cy="590" r="1.5"/><circle cx="497" cy="590" r="1.5"/><circle cx="503" cy="590" r="1.5"/><circle cx="527" cy="590" r="1.5"/><circle cx="533" cy="590" r="1.5"/><circle cx="539" cy="590" r="1.5"/><circle cx="553" cy="590" r="1.5"/><circle cx="559" cy="590" r="1.5"/><circle cx="565" cy="590" r="1.5"/><circle cx="571" cy="590" r="1.5"/><circle cx="577" cy="590" r="1.5"/><circle cx="583" cy="590" r="1.5"/><circle cx="589" cy="590" r="1.5"/><circle cx="595" cy="590" r="1.5"/><circle cx="601" cy="590" r="1.5"/><circle cx="607" cy="590" r="1.5"/></g>
<g class="s" style="font-size:5px"><text transform="translate(493,546) rotate(-90)">VSS</text><text transform="translate(499,546) rotate(-90)">VDD</text><text transform="translate(505,546) rotate(-90)">VEE</text><text transform="translate(529,546) rotate(-90)">RS</text><text transform="translate(535,546) rotate(-90)">RW</text><text transform="translate(541,546) rotate(-90)">E</text>
<text transform="translate(555,546) rotate(-90)">D0</text><text transform="translate(561,546) rotate(-90)">D1</text><text transform="translate(567,546) rotate(-90)">D2</text><text transform="translate(573,546) rotate(-90)">D3</text><text transform="translate(579,546) rotate(-90)">D4</text><text transform="translate(585,546) rotate(-90)">D5</text><text transform="translate(591,546) rotate(-90)">D6</text><text transform="translate(597,546) rotate(-90)">D7</text>
<text transform="translate(489,582) rotate(-90)">VCC</text><text transform="translate(495,582) rotate(-90)">GND</text><text transform="translate(525,588) rotate(-90)">P20/SCL</text><text transform="translate(531,588) rotate(-90)">P21/SDA</text><text transform="translate(537,582) rotate(-90)">P12</text>
<text transform="translate(551,582) rotate(-90)">P00</text><text transform="translate(557,582) rotate(-90)">P01</text><text transform="translate(563,582) rotate(-90)">P02</text><text transform="translate(569,582) rotate(-90)">P03</text><text transform="translate(575,582) rotate(-90)">P04</text><text transform="translate(581,582) rotate(-90)">P05</text><text transform="translate(587,582) rotate(-90)">P06</text><text transform="translate(593,582) rotate(-90)">P07</text></g>

<!-- ===== NE555 ===== -->
<rect class="c" x="1127" y="386" width="47.4" height="78.6"/>
<text class="s" x="1152" y="382" style="font-size:9px">U3</text><text class="s" x="1153" y="477">NE555</text>
<path class="w" d="M1049.5 331H1080M1120 331H1133M1169 331H1190V394M1049.5 331V456H1115M1095.7 456V519H1110M1126 519H1150.5V480M1095.7 495H1212.4V456H1187M1057 424.6H1084M1116 394H1108V371H1150.5V380M1144 309H1170V331M1189.6 394H1199M1228 394H1291M1259.6 315.6V340M1259.6 378V394"/>
<path class="r" d="M1080 331H1088M1112 331H1120M1133 331H1139M1163 331H1169M1151 309V320M1093 424.6H1127M1116 456H1127M1174.4 394H1189.6M1174.4 456H1187M1174.4 409H1184M1150.5 464.6V480M1150.5 371V386M1199 394H1204M1205 393L1219 389M1221 394H1228"/>
<path d="M1084 418V431M1087 418V431M1115 512V526M1118 512V526" stroke="#8b0000" stroke-width="1.5"/>
<rect x="1088" y="327.5" width="24" height="7" class="c"/><rect x="1139" y="327.5" width="24" height="7" class="c"/>
<rect x="1256" y="340" width="7" height="30" class="c"/>
<circle cx="1124" cy="394" r="2" fill="#dfdfd0" stroke="#8b0000"/>
<g class="rd"><circle cx="1145" cy="339" r="2.2"/><circle cx="1155" cy="339" r="2.2"/><circle cx="1218" cy="387" r="2.2"/><circle cx="1225" cy="387" r="2.2"/></g>
<g class="d"><circle cx="1170" cy="331" r="1.6"/><circle cx="1189.6" cy="394" r="1.6"/><circle cx="1259.6" cy="394" r="1.6"/><circle cx="1291" cy="394" r="1.6"/><circle cx="1259.6" cy="315.6" r="1.6"/><circle cx="1095.7" cy="456" r="1.6"/><circle cx="1095.7" cy="495" r="1.6"/><circle cx="1057" cy="424.6" r="1.6"/></g>
<g class="s"><text x="1088" y="325" style="font-size:9px">R8</text><text x="1088" y="342">100</text><text x="1133" y="319" style="font-size:9px">RB3</text><text x="1136" y="352">50k</text><text x="1268" y="355" style="font-size:9px">R3</text><text x="1268" y="364">10k</text><text x="1081" y="416" style="font-size:9px">C16</text><text x="1080" y="440">0.1u</text><text x="1065" y="422">GND</text>
<text x="1112" y="513" style="font-size:9px">C14</text><text x="1112" y="535">0.1u</text><text x="1131" y="396">R</text><text x="1165" y="396">Q</text><text x="1160" y="410">DC</text><text x="1131" y="427">CV</text><text x="1131" y="459">TR</text><text x="1164" y="459">TH</text><text x="1122" y="392">4</text><text x="1121" y="422">5</text><text x="1120" y="454">2</text><text x="1178" y="392">3</text><text x="1178" y="407">7</text><text x="1178" y="454">6</text>
<text transform="translate(1152,400) rotate(-90)">VCC</text><text transform="translate(1152,463) rotate(-90)">GND</text><text transform="translate(1149,508) rotate(-90)">GND</text><text transform="translate(1257,336) rotate(-90)">VCC</text></g>

<!-- ===== 74HC138 ===== -->
<rect class="c" x="1447.5" y="409" width="46.5" height="70.8"/><text class="n" x="1447" y="406">U24</text><text class="t" x="1447" y="487">74HC138</text>
<path class="w" d="M1408 417.4H1433M1408 425H1433M1408 432.5H1433M1408 456H1433M1408 463.7H1433M1408 471.6H1433M1408 463.7V471.6M1508 417.4H1533M1508 425.2H1533M1508 433H1533M1508 440.7H1533M1508 448.5H1533M1508 456.2H1533M1508 464H1533M1508 471.6H1533"/>
<path class="r" d="M1433 417.4H1447.5M1433 425H1447.5M1433 432.5H1447.5M1433 456H1447.5M1433 463.7H1445M1433 471.6H1445M1496 417.4H1508M1496 425.2H1508M1496 433H1508M1496 440.7H1508M1496 448.5H1508M1496 456.2H1508M1496 464H1508M1496 471.6H1508"/>
<g fill="#dfdfd0" stroke="#8b0000" stroke-width="0.9"><circle cx="1446" cy="463.7" r="1.4"/><circle cx="1446" cy="471.6" r="1.4"/><circle cx="1495.5" cy="417.4" r="1.4"/><circle cx="1495.5" cy="425.2" r="1.4"/><circle cx="1495.5" cy="433" r="1.4"/><circle cx="1495.5" cy="440.7" r="1.4"/><circle cx="1495.5" cy="448.5" r="1.4"/><circle cx="1495.5" cy="456.2" r="1.4"/><circle cx="1495.5" cy="464" r="1.4"/><circle cx="1495.5" cy="471.6" r="1.4"/></g>
<g class="d"><circle cx="1408" cy="417.4" r="1.6"/><circle cx="1408" cy="425" r="1.6"/><circle cx="1408" cy="432.5" r="1.6"/><circle cx="1408" cy="456" r="1.6"/><circle cx="1408" cy="463.7" r="1.6"/><circle cx="1533" cy="417.4" r="1.6"/><circle cx="1533" cy="425.2" r="1.6"/><circle cx="1533" cy="433" r="1.6"/><circle cx="1533" cy="440.7" r="1.6"/><circle cx="1533" cy="448.5" r="1.6"/><circle cx="1533" cy="456.2" r="1.6"/><circle cx="1533" cy="464" r="1.6"/><circle cx="1533" cy="471.6" r="1.6"/></g>
<g class="t"><text x="1416" y="415.4">P25</text><text x="1436" y="415.4">1</text><text x="1416" y="423">P26</text><text x="1436" y="423">2</text><text x="1416" y="430.5">P27</text><text x="1436" y="430.5">3</text><text x="1416" y="454">VCC</text><text x="1436" y="454">6</text><text x="1416" y="461.7">GND</text><text x="1436" y="461.7">4</text><text x="1416" y="469.6">GND</text><text x="1436" y="469.6">5</text>
<text x="1450" y="419.4">A</text><text x="1450" y="427">B</text><text x="1450" y="434.5">C</text><text x="1450" y="458">E1</text><text x="1450" y="465.7">E2</text><text x="1450" y="473.6">E3</text>
<text x="1483" y="419.4">Y0</text><text x="1483" y="427.2">Y1</text><text x="1483" y="435">Y2</text><text x="1483" y="442.7">Y3</text><text x="1483" y="450.5">Y4</text><text x="1483" y="458.2">Y5</text><text x="1483" y="466">Y6</text><text x="1483" y="473.6">Y7</text>
<text x="1500" y="415.4">15   Y0</text><text x="1500" y="423.2">14   Y1</text><text x="1500" y="431">13   Y2</text><text x="1500" y="438.7">12   Y3</text><text x="1500" y="446.5">11   Y4</text><text x="1500" y="454.2">10   Y5</text><text x="1500" y="462">9    Y6</text><text x="1500" y="469.6">7    Y7</text></g>

<!-- ===== POWER ===== -->
<path class="w" d="M1119.5 650V675M1143 643.4V667M1136 667H1150M1139 670H1147M1141.5 673H1144.5"/>
<path d="M1116 651L1119.5 643L1123 651Z" fill="none" stroke="#0d5c0d" stroke-width="1.2"/>
<g class="d"><circle cx="1119.5" cy="675" r="1.6"/><circle cx="1143" cy="643.4" r="1.6"/></g>
<g class="t"><text transform="translate(1117,668) rotate(-90)">VCC</text><text transform="translate(1141,660) rotate(-90)">GND</text></g>

<!-- ===== ULN2003 ===== -->
<rect class="c" x="1439.3" y="620" width="47.2" height="70"/><text class="n" x="1439" y="617">U10</text><text class="t" x="1439" y="697">ULN2003</text>
<path class="w" d="M1400 635.5H1425M1400 643.3H1425M1400 651H1425M1400 658.8H1425M1400 666.6H1425M1400 674.4H1425M1400 682.1H1425M1500 627.6H1533M1500 635.5H1533M1500 643.3H1533M1500 651H1533M1500 658.8H1533M1500 666.6H1533M1500 674.4H1533M1500 682.1H1533"/>
<path class="r" d="M1425 635.5H1439.3M1425 643.3H1439.3M1425 651H1439.3M1425 658.8H1439.3M1425 666.6H1439.3M1425 674.4H1439.3M1425 682.1H1439.3M1486.5 627.6H1500M1486.5 635.5H1500M1486.5 643.3H1500M1486.5 651H1500M1486.5 658.8H1500M1486.5 666.6H1500M1486.5 674.4H1500M1486.5 682.1H1500"/>
<g class="d"><circle cx="1400" cy="635.5" r="1.6"/><circle cx="1400" cy="643.3" r="1.6"/><circle cx="1400" cy="651" r="1.6"/><circle cx="1400" cy="658.8" r="1.6"/><circle cx="1400" cy="666.6" r="1.6"/><circle cx="1400" cy="674.4" r="1.6"/><circle cx="1400" cy="682.1" r="1.6"/><circle cx="1533" cy="627.6" r="1.6"/><circle cx="1533" cy="635.5" r="1.6"/><circle cx="1533" cy="643.3" r="1.6"/><circle cx="1533" cy="651" r="1.6"/><circle cx="1533" cy="658.8" r="1.6"/><circle cx="1533" cy="666.6" r="1.6"/><circle cx="1533" cy="674.4" r="1.6"/><circle cx="1533" cy="682.1" r="1.6"/></g>
<g class="t"><text x="1408" y="633.5">U9Q0 1</text><text x="1408" y="641.3">U9Q1 2</text><text x="1408" y="649">U9Q2 3</text><text x="1408" y="656.8">U9Q3 4</text><text x="1408" y="664.6">U9Q4 5</text><text x="1408" y="672.4">U9Q5 6</text><text x="1408" y="680.1">U9Q6 7</text>
<text x="1442" y="637.5">1B</text><text x="1442" y="645.3">2B</text><text x="1442" y="653">3B</text><text x="1442" y="660.8">4B</text><text x="1442" y="668.6">5B</text><text x="1442" y="676.4">6B</text><text x="1442" y="684.1">7B</text>
<text x="1472" y="629.6">COM</text><text x="1477" y="637.5">1C</text><text x="1477" y="645.3">2C</text><text x="1477" y="653">3C</text><text x="1477" y="660.8">4C</text><text x="1477" y="668.6">5C</text><text x="1477" y="676.4">6C</text><text x="1477" y="684.1">7C</text>
<text x="1490" y="625.6">9    VCC</text><text x="1490" y="633.5">16  STEPA</text><text x="1490" y="641.3">15  STEPB</text><text x="1490" y="649">14  STEPC</text><text x="1490" y="656.8">13  STEPD</text><text x="1490" y="664.6">12N_RELAY</text><text x="1490" y="672.4">11N_MOTOR</text><text x="1490" y="680.1">10N_BUZZ</text></g>

<!-- ===== DS1302 ===== -->
<rect class="c" x="378" y="674" width="39" height="63"/><text class="n" x="378" y="671">U19</text><text class="t" x="378" y="744">DS1302</text>
<path class="w" d="M323 678.5H368M323 686H368M323 710H368M323 718H368M323 725H368M427 678.5H440V688M427 729.5H440V718M429 697H451M429 711H451"/>
<path class="r" d="M368 678.5H378M368 686H378M368 710H378M368 718H378M368 725H378M417 678.5H427M417 729.5H427M440 688V697M440 711V718"/>
<rect x="434" y="699.5" width="12" height="8" class="c"/>
<g class="d"><circle cx="323" cy="678.5" r="1.6"/><circle cx="323" cy="686" r="1.6"/><circle cx="323" cy="710" r="1.6"/><circle cx="323" cy="718" r="1.6"/><circle cx="323" cy="725" r="1.6"/></g>
<g class="t"><text x="323" y="676.5">N_BATTERY 8</text><text x="338" y="684">VCC</text><text x="366" y="684">1</text><text x="339" y="708">P13</text><text x="366" y="708">5</text><text x="330" y="716">P17/SCLK 7</text><text x="339" y="723">P23</text><text x="366" y="723">6</text>
<text x="381" y="680.5">VCC1</text><text x="405" y="680.5">X1</text><text x="381" y="688">VCC2</text><text x="381" y="712">RST</text><text x="381" y="720">SCLK</text><text x="381" y="727">I/O</text><text x="405" y="727">X2</text><text x="420" y="676.5">2</text><text x="420" y="727.5">3</text><text x="449" y="712">CRYSTAL</text></g>
<text class="n" x="449" y="704">X1</text>

<!-- ===== AT24C02 ===== -->
<rect class="c" x="698" y="705.7" width="40" height="31.3"/><text class="n" x="698" y="703">U4</text><text class="t" x="698" y="744">AT24C02C</text>
<path class="w" d="M642 713.5H684M642 721H684M658 728.5H684M752 713.5H784M752 721H784M752 728.5H784"/>
<path class="r" d="M684 713.5H698M684 721H698M684 728.5H698M738 713.5H752M738 721H752M738 728.5H752"/>
<g class="d"><circle cx="642" cy="713.5" r="1.6"/><circle cx="642" cy="721" r="1.6"/><circle cx="658" cy="728.5" r="1.6"/><circle cx="784" cy="713.5" r="1.6"/><circle cx="784" cy="721" r="1.6"/><circle cx="784" cy="728.5" r="1.6"/></g>
<g class="t"><text x="651" y="711.5">P20/SCL</text><text x="687" y="711.5">6</text><text x="651" y="719">P21/SDA</text><text x="687" y="719">5</text><text x="667" y="726.5">GND</text><text x="687" y="726.5">7</text>
<text x="701" y="715.5">SCK</text><text x="701" y="723">SDA</text><text x="701" y="730.5">WP</text><text x="728" y="715.5">A0</text><text x="728" y="723">A1</text><text x="728" y="730.5">A2</text>
<text x="742" y="711.5">1 GND</text><text x="742" y="719">2 GND</text><text x="742" y="726.5">3 GND</text></g>
</svg>
</body></html>
